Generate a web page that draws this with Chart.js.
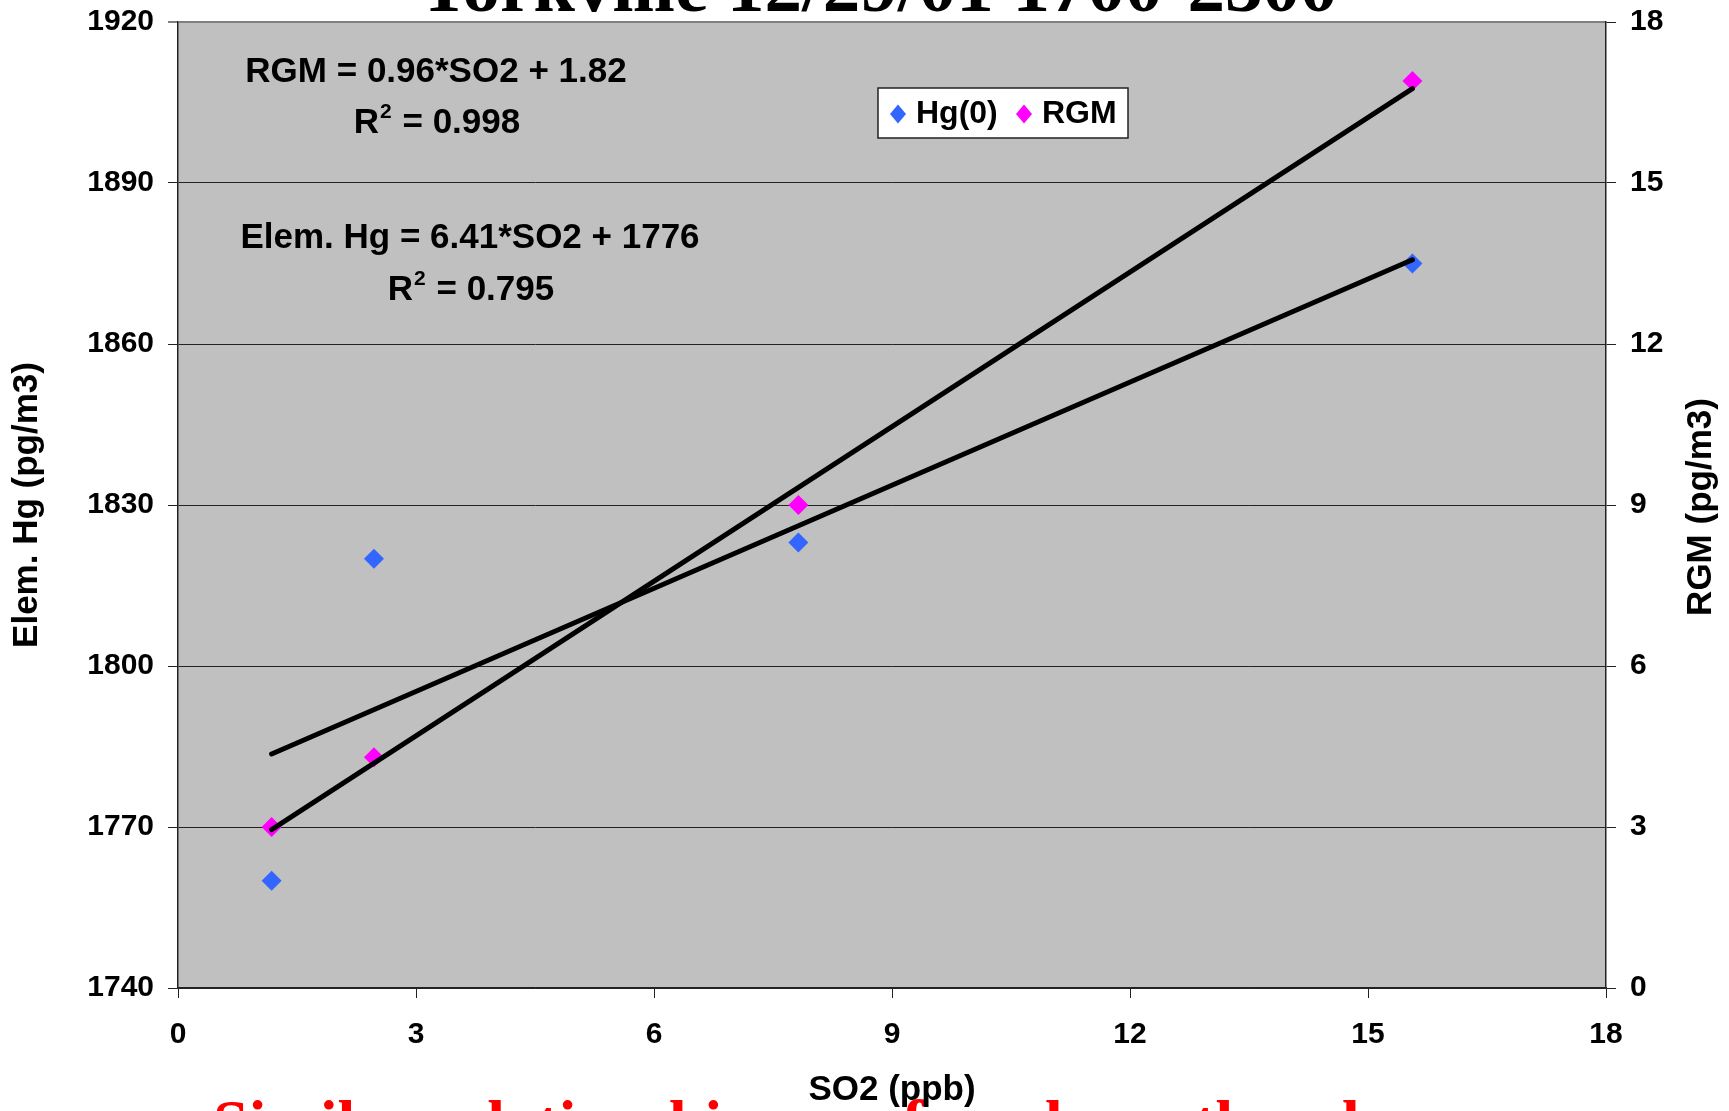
<!DOCTYPE html>
<html>
<head>
<meta charset="utf-8">
<title>Yorkville 12/29/01 1700-2300</title>
<script src="https://cdn.jsdelivr.net/npm/chart.js"></script>
<style>
  body { margin: 0; background: #fff; }
  #wrap { width: 1729px; height: 1111px; position: relative; }
</style>
</head>
<body>
<div id="wrap"><canvas id="yorkville"></canvas></div>
<script>
// Yorkville 12/29/01 1700-2300 : Hg(0) and RGM against SO2
const so2 = [1.18, 2.47, 7.82, 15.56];
const hgValues = [1760, 1820, 1823, 1875];
const rgmValues = [3.0, 4.3, 9.0, 16.9];

// ends of the two trendlines
const trendSo2 = [1.18, 15.56];
const hgTrend = [1783.6, 1875.7];
const rgmTrend = [2.95, 16.76];

const xTicks = [0, 3, 6, 9, 12, 15, 18];
const hgTicks = [1740, 1770, 1800, 1830, 1860, 1890, 1920];
const rgmTicks = [0, 3, 6, 9, 12, 15, 18];

const titleText = 'Yorkville 12/29/01 1700-2300';
const noteText = 'Similar relationships are found on other days';
const rgmEq = 'RGM = 0.96*SO2 + 1.82';
const rgmR2 = '0.998';
const hgEq = 'Elem. Hg = 6.41*SO2 + 1776';
const hgR2 = '0.795';

const sans = '"Liberation Sans", Arial, sans-serif';
const serif = '"Liberation Serif", "Times New Roman", serif';

function points(xs, ys) {
  let out = [];
  for (let i = 0; i < xs.length; i++) {
    out.push({x: xs[i], y: ys[i]});
  }
  return out;
}

function drawR2(ctx, cx, y, value) {
  const big = 'bold 35px ' + sans;
  const small = 'bold 21px ' + sans;
  const rest = ' = ' + value;
  ctx.font = big;
  const wR = ctx.measureText('R').width;
  const wRest = ctx.measureText(rest).width;
  ctx.font = small;
  const w2 = ctx.measureText('2').width;
  let x = cx - (wR + w2 + wRest) / 2;
  ctx.textAlign = 'left';
  ctx.font = big;
  ctx.fillText('R', x, y);
  ctx.font = small;
  ctx.fillText('2', x + wR + 1, y - 15);
  ctx.font = big;
  ctx.fillText(rest, x + wR + w2 + 2, y);
}

function diamond(ctx, x, y, rx, ry, color) {
  ctx.fillStyle = color;
  ctx.beginPath();
  ctx.moveTo(x, y - ry);
  ctx.lineTo(x + rx, y);
  ctx.lineTo(x, y + ry);
  ctx.lineTo(x - rx, y);
  ctx.closePath();
  ctx.fill();
}

// keep the plot box where the original has it
function noVerticalPad(scale, w) {
  scale.width = w;
  scale.paddingTop = 0;
  scale.paddingBottom = 0;
}

const extras = {
  id: 'extras',
  beforeDraw(chart) {
    const ctx = chart.ctx;
    const a = chart.chartArea;
    ctx.save();
    ctx.fillStyle = '#c0c0c0';
    ctx.fillRect(a.left, a.top, a.right - a.left, a.bottom - a.top);

    // title sits mostly above the page edge
    ctx.fillStyle = '#000';
    ctx.font = 'bold 75px ' + serif;
    ctx.textAlign = 'center';
    ctx.textBaseline = 'alphabetic';
    ctx.fillText(titleText, 877, 11);

    // red note, cut off by the bottom edge
    ctx.fillStyle = '#ff0000';
    ctx.font = 'bold 64px ' + serif;
    ctx.textAlign = 'left';
    ctx.fillText(noteText, 213, 1144);
    ctx.restore();
  },
  afterDraw(chart) {
    const ctx = chart.ctx;
    ctx.save();
    ctx.fillStyle = '#000';
    ctx.textBaseline = 'alphabetic';

    // trendline equations
    ctx.font = 'bold 35px ' + sans;
    ctx.textAlign = 'center';
    ctx.fillText(rgmEq, 436, 82);
    drawR2(ctx, 436, 133, rgmR2);
    ctx.fillStyle = '#000';
    ctx.font = 'bold 35px ' + sans;
    ctx.textAlign = 'center';
    ctx.fillText(hgEq, 470, 248);
    drawR2(ctx, 470, 300, hgR2);

    // legend box
    ctx.fillStyle = '#fff';
    ctx.fillRect(878, 88, 250, 50);
    ctx.strokeStyle = '#222';
    ctx.lineWidth = 1.5;
    ctx.strokeRect(878, 88, 250, 50);
    const ds = chart.data.datasets;
    const itemX = [898, 1024];
    ctx.font = 'bold 32px ' + sans;
    ctx.textAlign = 'left';
    ctx.textBaseline = 'middle';
    for (let i = 0; i < 2; i++) {
      diamond(ctx, itemX[i], 114, 8, 9.5, ds[i].backgroundColor);
      ctx.fillStyle = '#000';
      ctx.fillText(ds[i].label, itemX[i] + 18, 114);
    }

    // right axis title reads bottom to top
    ctx.translate(1701, 507);
    ctx.rotate(-Math.PI / 2);
    ctx.textAlign = 'center';
    ctx.font = 'bold 35px ' + sans;
    ctx.fillText('RGM (pg/m3)', 0, 0);
    ctx.restore();
  }
};

const tickFont = {family: sans, size: 30, weight: 'bold'};
const titleFont = {family: sans, size: 35, weight: 'bold', lineHeight: 1.2};
const plainLabel = function(value) { return String(value); };

const ctx = document.getElementById('yorkville');

new Chart(ctx, {
  type: 'scatter',
  data: {
    datasets: [{
      label: 'Hg(0)',
      data: points(so2, hgValues),
      yAxisID: 'yL',
      backgroundColor: '#3366ff',
      borderWidth: 0,
      pointStyle: 'rectRot',
      pointRadius: 10,
      order: 1
    }, {
      label: 'RGM',
      data: points(so2, rgmValues),
      yAxisID: 'yR',
      backgroundColor: '#ff00ff',
      borderWidth: 0,
      pointStyle: 'rectRot',
      pointRadius: 10,
      order: 1
    }, {
      label: 'Hg trend',
      type: 'line',
      data: points(trendSo2, hgTrend),
      yAxisID: 'yL',
      borderColor: '#000',
      borderWidth: 5,
      borderCapStyle: 'round',
      pointRadius: 0,
      order: 0
    }, {
      label: 'RGM trend',
      type: 'line',
      data: points(trendSo2, rgmTrend),
      yAxisID: 'yR',
      borderColor: '#000',
      borderWidth: 5,
      borderCapStyle: 'round',
      pointRadius: 0,
      order: 0
    }]
  },
  options: {
    responsive: true,
    maintainAspectRatio: false,
    animation: false,
    layout: { padding: { top: 22, left: 0, right: 0, bottom: 0 } },
    plugins: {
      legend: { display: false },
      tooltip: { enabled: false }
    },
    scales: {
      x: {
        type: 'linear',
        min: xTicks[0],
        max: xTicks[xTicks.length - 1],
        ticks: { stepSize: xTicks[1] - xTicks[0], font: tickFont, color: '#000', padding: 19, maxRotation: 0, callback: plainLabel },
        grid: { drawOnChartArea: false, drawTicks: true, tickLength: 10, color: '#222' },
        border: { color: '#222', width: 1.5 },
        title: { display: true, text: 'SO2 (ppb)', font: titleFont, color: '#000', padding: { top: 0, bottom: 0 } },
        afterFit: function(scale) {
          scale.height = 123;
          scale.paddingLeft = 0;
          scale.paddingRight = 0;
        }
      },
      yL: {
        type: 'linear',
        position: 'left',
        min: hgTicks[0],
        max: hgTicks[hgTicks.length - 1],
        ticks: { stepSize: hgTicks[1] - hgTicks[0], font: tickFont, color: '#000', padding: 14, callback: plainLabel },
        grid: {
          tickLength: 10,
          lineWidth: function(c) { return c.tick && c.tick.value === hgTicks[hgTicks.length - 1] ? 2 : 1; },
          color: function(c) { return c.tick && c.tick.value === hgTicks[hgTicks.length - 1] ? '#808080' : '#222'; }
        },
        border: { color: '#222', width: 1.5 },
        title: { display: true, text: 'Elem. Hg (pg/m3)', font: titleFont, color: '#000', padding: { top: 6, bottom: 0 } },
        afterFit: function(scale) { noVerticalPad(scale, 178); }
      },
      yR: {
        type: 'linear',
        position: 'right',
        min: rgmTicks[0],
        max: rgmTicks[rgmTicks.length - 1],
        ticks: { stepSize: rgmTicks[1] - rgmTicks[0], font: tickFont, color: '#000', padding: 14, callback: plainLabel },
        grid: { drawOnChartArea: false, tickLength: 10, color: '#222' },
        border: { color: '#222', width: 1.5 },
        afterFit: function(scale) { noVerticalPad(scale, 123); }
      }
    }
  },
  plugins: [extras]
});
</script>
</body>
</html>
